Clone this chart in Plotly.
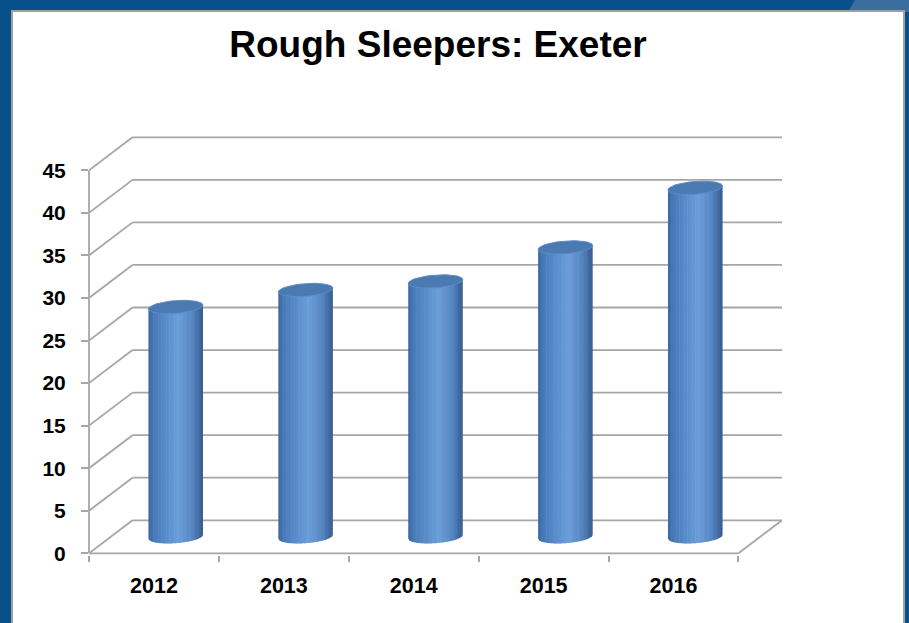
import numpy as np
import plotly.graph_objects as go

# ---------------- data ----------------
years = ["2012", "2013", "2014", "2015", "2016"]
rough_sleepers = [27, 29, 30, 34, 41]
y_tick_values = [0, 5, 10, 15, 20, 25, 30, 35, 40, 45]
y_tick_labels = ["0", "5", "10", "15", "20", "25", "30", "35", "40", "45"]
chart_title = "Rough Sleepers: Exeter"

# ---------------- style ----------------
W, H = 909, 623
ML, MR, MT, MB = 89, 127, 135, 68
PW, PH = W - ML - MR, H - MT - MB

DX = 0.335        # oblique depth (category units)
DY = 3.88         # oblique depth (value units)
BAR_W = 0.42      # cylinder diameter (category units)
ELL_B = 0.75      # half height of cylinder ellipse (value units)
TILT = 0.45       # ellipse tilt across the diameter (value units)
N_STRIPS = 34
GRID = "#A6A6A6"
FONT = "Liberation Sans, Arial, sans-serif"

n = len(years)
X_RANGE = [-0.5, n - 0.5 + DX]
Y_RANGE = [-0.2, y_tick_values[-1] + DY + 0.27]


def xp(px):
    return (px - ML) / PW


def yp(py):
    return (H - MB - py) / PH


def lerp_color(u):
    stops = [(0.0, (60, 104, 160)), (0.12, (74, 124, 188)), (0.55, (106, 158, 218)),
             (0.8, (86, 134, 194)), (1.0, (52, 90, 140))]
    for (u0, c0), (u1, c1) in zip(stops[:-1], stops[1:]):
        if u0 <= u <= u1:
            t = (u - u0) / (u1 - u0)
            c = [round(a + (b - a) * t) for a, b in zip(c0, c1)]
            return "rgb(%d,%d,%d)" % tuple(c)
    return "rgb(%d,%d,%d)" % stops[-1][1]


fig = go.Figure()

# ---------------- walls / floor gridlines ----------------
gx, gy = [], []
x_front_l = -0.5
x_front_r = n - 0.5
for v in y_tick_values:
    # back wall line
    gx += [x_front_l + DX, x_front_r + DX, None]
    gy += [v + DY, v + DY, None]
    # side wall diagonal
    gx += [x_front_l, x_front_l + DX, None]
    gy += [v, v + DY, None]
# floor front edge and right diagonal
gx += [x_front_l, x_front_r, None, x_front_r, x_front_r + DX, None]
gy += [0, 0, None, 0, DY, None]
fig.add_trace(go.Scatter(x=gx, y=gy, mode="lines", line=dict(color=GRID, width=1.8),
                         hoverinfo="skip", showlegend=False))

# ---------------- cylinders ----------------
a = BAR_W / 2
slope = TILT / BAR_W
for k in range(N_STRIPS):
    u0 = k / N_STRIPS
    u1 = min(1.0, (k + 1.35) / N_STRIPS)
    xs, ys = [], []
    for i, v in enumerate(rough_sleepers):
        xc = i + DX / 2
        base = DY / 2
        top = v + DY / 2
        xa = xc - a + 2 * a * u0
        xb = xc - a + 2 * a * u1
        pts_x = list(np.linspace(xa, xb, 4))
        bottom = [base + slope * (x - xc) - ELL_B * np.sqrt(max(0.0, 1 - ((x - xc) / a) ** 2))
                  for x in pts_x]
        topl = [top + slope * (x - xc) for x in pts_x]
        xs += pts_x + pts_x[::-1] + [pts_x[0], None]
        ys += bottom + topl[::-1] + [bottom[0], None]
    col = lerp_color((u0 + (k + 1) / N_STRIPS) / 2)
    fig.add_trace(go.Scatter(x=xs, y=ys, mode="lines", fill="toself", fillcolor=col,
                             line=dict(width=0, color=col), hoverinfo="skip",
                             showlegend=False))

# top ellipses
t = np.linspace(0, 2 * np.pi, 60)
ex, ey = [], []
for i, v in enumerate(rough_sleepers):
    xc = i + DX / 2
    top = v + DY / 2
    xx = xc + a * np.cos(t)
    yy = top + slope * (a * np.cos(t)) + ELL_B * np.sin(t)
    ex += list(xx) + [None]
    ey += list(yy) + [None]
fig.add_trace(go.Scatter(x=ex, y=ey, mode="lines", fill="toself", fillcolor="rgb(75,122,178)",
                         line=dict(width=1, color="rgb(96,140,198)"), hoverinfo="skip",
                         showlegend=False))

# ---------------- frame shapes ----------------
shapes = [
    dict(type="path", xref="paper", yref="paper", layer="below",
         path="M %f %f L %f %f L %f %f L %f %f Z" % (xp(855), yp(0), xp(909), yp(0),
                                                     xp(909), yp(12), xp(848), yp(12)),
         fillcolor="#3B6E9E", line=dict(width=0)),
    dict(type="rect", xref="paper", yref="paper", layer="below",
         x0=xp(12), x1=xp(904), y0=yp(630), y1=yp(11),
         fillcolor="white", line=dict(color="#A0A0A0", width=2)),
    # front vertical value axis line
    dict(type="line", xref="paper", yref="y", x0=0, x1=0,
         y0=y_tick_values[0], y1=y_tick_values[-1], line=dict(color=GRID, width=1.8)),
]

fig.update_layout(
    width=W, height=H,
    margin=dict(l=ML, r=MR, t=MT, b=MB),
    paper_bgcolor="#07508A",
    plot_bgcolor="rgba(0,0,0,0)",
    shapes=shapes,
    title=dict(text=chart_title, x=438 / W, xref="container", xanchor="center",
               y=1 - 44 / H, yref="container", yanchor="middle",
               font=dict(family=FONT, size=37, color="black", weight="bold")),
    xaxis=dict(range=X_RANGE, tickmode="array", tickvals=list(range(n)), ticktext=years,
               ticks="", showgrid=False, zeroline=False, showline=False,
               tickfont=dict(family=FONT, size=21.5, color="black", weight="bold"),
               ticklabelstandoff=15,
               minor=dict(tickmode="array", tickvals=[i - 0.5 for i in range(n + 1)],
                          ticks="outside", ticklen=6, tickwidth=1.5, tickcolor=GRID,
                          showgrid=False)),
    yaxis=dict(range=Y_RANGE, tickmode="array", tickvals=y_tick_values, ticktext=y_tick_labels,
               ticks="outside", ticklen=7, tickwidth=1.5, tickcolor=GRID,
               showgrid=False, zeroline=False, showline=False,
               tickfont=dict(family=FONT, size=21, color="black", weight="bold"),
               ticklabelstandoff=11),
    showlegend=False,
)

fig.write_html("out.html", config={"displayModeBar": False})
